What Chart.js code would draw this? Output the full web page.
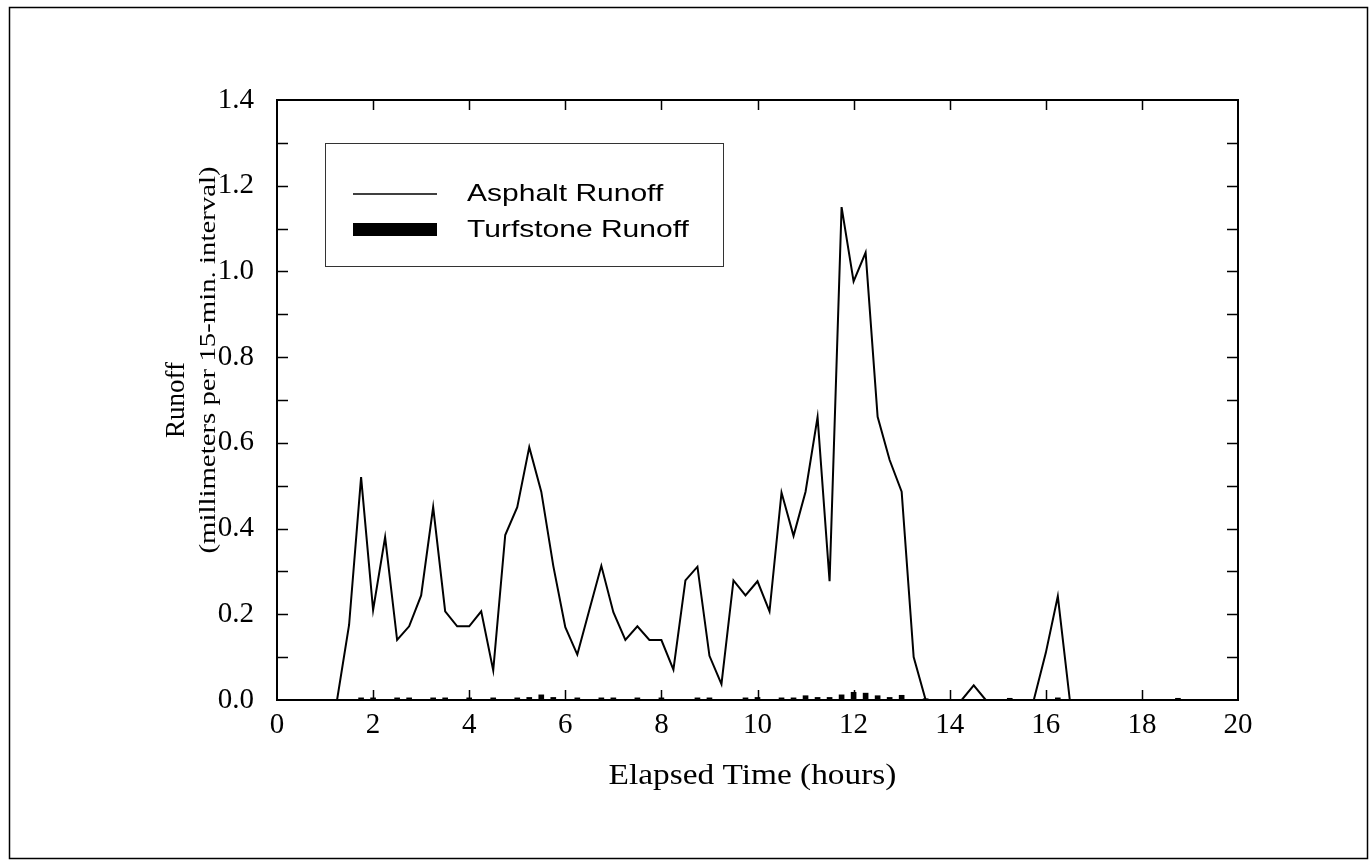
<!DOCTYPE html>
<html>
<head>
<meta charset="utf-8">
<script src="https://cdn.jsdelivr.net/npm/chart.js@4.4.1/dist/chart.umd.min.js"></script>
<style>
  html, body { margin: 0; padding: 0; background: #fff; }
  canvas { display: block; }
</style>
</head>
<body>
<canvas id="runoffChart" width="1372" height="861"></canvas>
<script>
// elapsed time in hours, one value per 15-min. interval
const hours = [
  0, 0.25, 0.5, 0.75, 1, 1.25, 1.5, 1.75, 2, 2.25, 2.5, 2.75,
  3, 3.25, 3.5, 3.75, 4, 4.25, 4.5, 4.75, 5, 5.25, 5.5, 5.75,
  6, 6.25, 6.5, 6.75, 7, 7.25, 7.5, 7.75, 8, 8.25, 8.5, 8.75,
  9, 9.25, 9.5, 9.75, 10, 10.25, 10.5, 10.75, 11, 11.25, 11.5, 11.75,
  12, 12.25, 12.5, 12.75, 13, 13.25, 13.5, 13.75, 14, 14.25, 14.5, 14.75,
  15, 15.25, 15.5, 15.75, 16, 16.25, 16.5, 16.75, 17, 17.25, 17.5, 17.75,
  18, 18.25, 18.5, 18.75, 19, 19.25, 19.5, 19.75, 20
];

// runoff, millimeters per 15-min. interval
const asphaltRunoff = [
  0, 0, 0, 0, 0, 0, 0.175, 0.52, 0.21, 0.38, 0.14, 0.172,
  0.244, 0.45, 0.207, 0.172, 0.172, 0.207, 0.069, 0.385, 0.45, 0.59, 0.486, 0.313,
  0.17, 0.106, 0.21, 0.313, 0.205, 0.14, 0.172, 0.14, 0.14, 0.071, 0.279, 0.311,
  0.103, 0.037, 0.279, 0.244, 0.277, 0.207, 0.484, 0.383, 0.486, 0.66, 0.277, 1.15,
  0.977, 1.044, 0.661, 0.56, 0.486, 0.10, 0, 0, 0, 0, 0.034, 0,
  0, 0, 0, 0, 0.11, 0.242, 0, 0, 0, 0, 0, 0,
  0, 0, 0, 0, 0, 0, 0, 0, 0
];

const turfstoneRunoff = [
  0, 0, 0, 0, 0, 0, 0, 0.005, 0.005, 0, 0.005, 0.005,
  0, 0.005, 0.005, 0, 0.005, 0, 0.005, 0, 0.005, 0.006, 0.012, 0.006,
  0, 0.005, 0, 0.005, 0.005, 0, 0.005, 0, 0.005, 0, 0, 0.005,
  0.005, 0, 0, 0.005, 0.006, 0, 0.005, 0.005, 0.01, 0.006, 0.006, 0.012,
  0.018, 0.016, 0.01, 0.006, 0.011, 0, 0.003, 0, 0, 0, 0, 0,
  0, 0.004, 0, 0, 0, 0.005, 0, 0, 0, 0, 0, 0,
  0, 0, 0, 0.004, 0, 0, 0, 0, 0
];

const xTicks = [0, 2, 4, 6, 8, 10, 12, 14, 16, 18, 20];
const yTicks = [0, 0.2, 0.4, 0.6, 0.8, 1.0, 1.2, 1.4];

const serif = '"Liberation Serif", "Times New Roman", serif';
const sans = '"Liberation Sans", Arial, sans-serif';

// draw text stretched along its direction
function wideText(ctx, text, x, y, sx, align) {
  ctx.save();
  ctx.translate(x, y);
  ctx.scale(sx, 1);
  ctx.textAlign = align || 'left';
  ctx.fillText(text, 0, 0);
  ctx.restore();
}

const decorations = {
  id: 'decorations',
  afterDraw(chart) {
    const ctx = chart.ctx;
    const a = chart.chartArea;
    const xs = chart.scales.x, ys = chart.scales.y;
    ctx.save();
    ctx.strokeStyle = '#000';
    ctx.fillStyle = '#000';

    // page frame
    ctx.lineWidth = 1.5;
    ctx.strokeRect(9.5, 7.5, 1358, 851);

    // plot frame
    ctx.lineWidth = 2;
    ctx.strokeRect(a.left, a.top, a.right - a.left, a.bottom - a.top);

    // inward ticks
    ctx.lineWidth = 1.5;
    ctx.beginPath();
    for (let v = 1; v < 14; v++) {
      const y = Math.round(ys.getPixelForValue(v / 10)) + 0.5;
      ctx.moveTo(a.left, y); ctx.lineTo(a.left + 11, y);
      ctx.moveTo(a.right, y); ctx.lineTo(a.right - 11, y);
    }
    xTicks.slice(1, -1).forEach(t => {
      const x = Math.round(xs.getPixelForValue(t)) + 0.5;
      ctx.moveTo(x, a.bottom); ctx.lineTo(x, a.bottom - 10);
      ctx.moveTo(x, a.top); ctx.lineTo(x, a.top + 10);
    });
    ctx.stroke();

    // axis titles
    ctx.textBaseline = 'middle';
    ctx.font = '29px ' + serif;
    wideText(ctx, 'Elapsed Time (hours)', (a.left + a.right) / 2 - 5, 776, 1.15, 'center');

    ctx.save();
    ctx.translate(177, 400);
    ctx.rotate(-Math.PI / 2);
    ctx.font = '27px ' + serif;
    wideText(ctx, 'Runoff', 0, 0, 1.0, 'center');
    ctx.restore();

    ctx.save();
    ctx.translate(209, 360);
    ctx.rotate(-Math.PI / 2);
    ctx.font = '24px ' + serif;
    wideText(ctx, '(millimeters per 15-min. interval)', 0, 0, 1.2, 'center');
    ctx.restore();

    // legend box
    const lx = a.left + 48, ly = a.top + 43;
    ctx.lineWidth = 1;
    ctx.strokeStyle = '#333';
    ctx.fillStyle = '#fff';
    ctx.fillRect(lx, ly, 398, 123);
    ctx.strokeRect(lx + 0.5, ly + 0.5, 398, 123);
    ctx.strokeStyle = '#000';
    ctx.fillStyle = '#000';
    ctx.lineWidth = 1.5;
    ctx.beginPath();
    ctx.moveTo(lx + 28, ly + 51);
    ctx.lineTo(lx + 112, ly + 51);
    ctx.stroke();
    ctx.fillRect(lx + 28, ly + 80, 84, 13);
    ctx.font = '24px ' + sans;
    wideText(ctx, 'Asphalt Runoff', lx + 142, ly + 51, 1.25);
    wideText(ctx, 'Turfstone Runoff', lx + 142, ly + 87, 1.25);

    ctx.restore();
  }
};

new Chart(document.getElementById('runoffChart'), {
  data: {
    datasets: [
      {
        type: 'line',
        label: 'Asphalt Runoff',
        data: hours.map((h, i) => ({ x: h, y: asphaltRunoff[i] })),
        borderColor: '#000',
        borderWidth: 2,
        pointRadius: 0,
        tension: 0,
        fill: false
      },
      {
        type: 'bar',
        label: 'Turfstone Runoff',
        data: hours.map((h, i) => ({ x: h, y: turfstoneRunoff[i] })),
        backgroundColor: '#000',
        borderWidth: 0,
        barThickness: 5
      }
    ]
  },
  options: {
    responsive: false,
    animation: false,
    devicePixelRatio: 1,
    layout: { padding: { left: 200, top: 100, right: 134, bottom: 100 } },
    plugins: {
      legend: { display: false },
      tooltip: { enabled: false }
    },
    scales: {
      x: {
        type: 'linear',
        offset: false,
        min: 0,
        max: 20,
        afterFit: s => { s.height = 61; },
        afterBuildTicks: s => { s.ticks = xTicks.map(v => ({ value: v })); },
        grid: { display: false, offset: false },
        border: { display: false },
        ticks: {
          color: '#000',
          padding: 0,
          font: { family: serif, size: 29 },
          callback: v => String(v)
        }
      },
      y: {
        min: 0,
        max: 1.4,
        afterFit: s => { s.width = 77; },
        afterBuildTicks: s => { s.ticks = yTicks.map(v => ({ value: v })); },
        grid: { display: false },
        border: { display: false },
        ticks: {
          color: '#000',
          padding: 15,
          font: { family: serif, size: 29 },
          callback: v => Number(v).toFixed(1)
        }
      }
    }
  },
  plugins: [decorations]
});
</script>
</body>
</html>
